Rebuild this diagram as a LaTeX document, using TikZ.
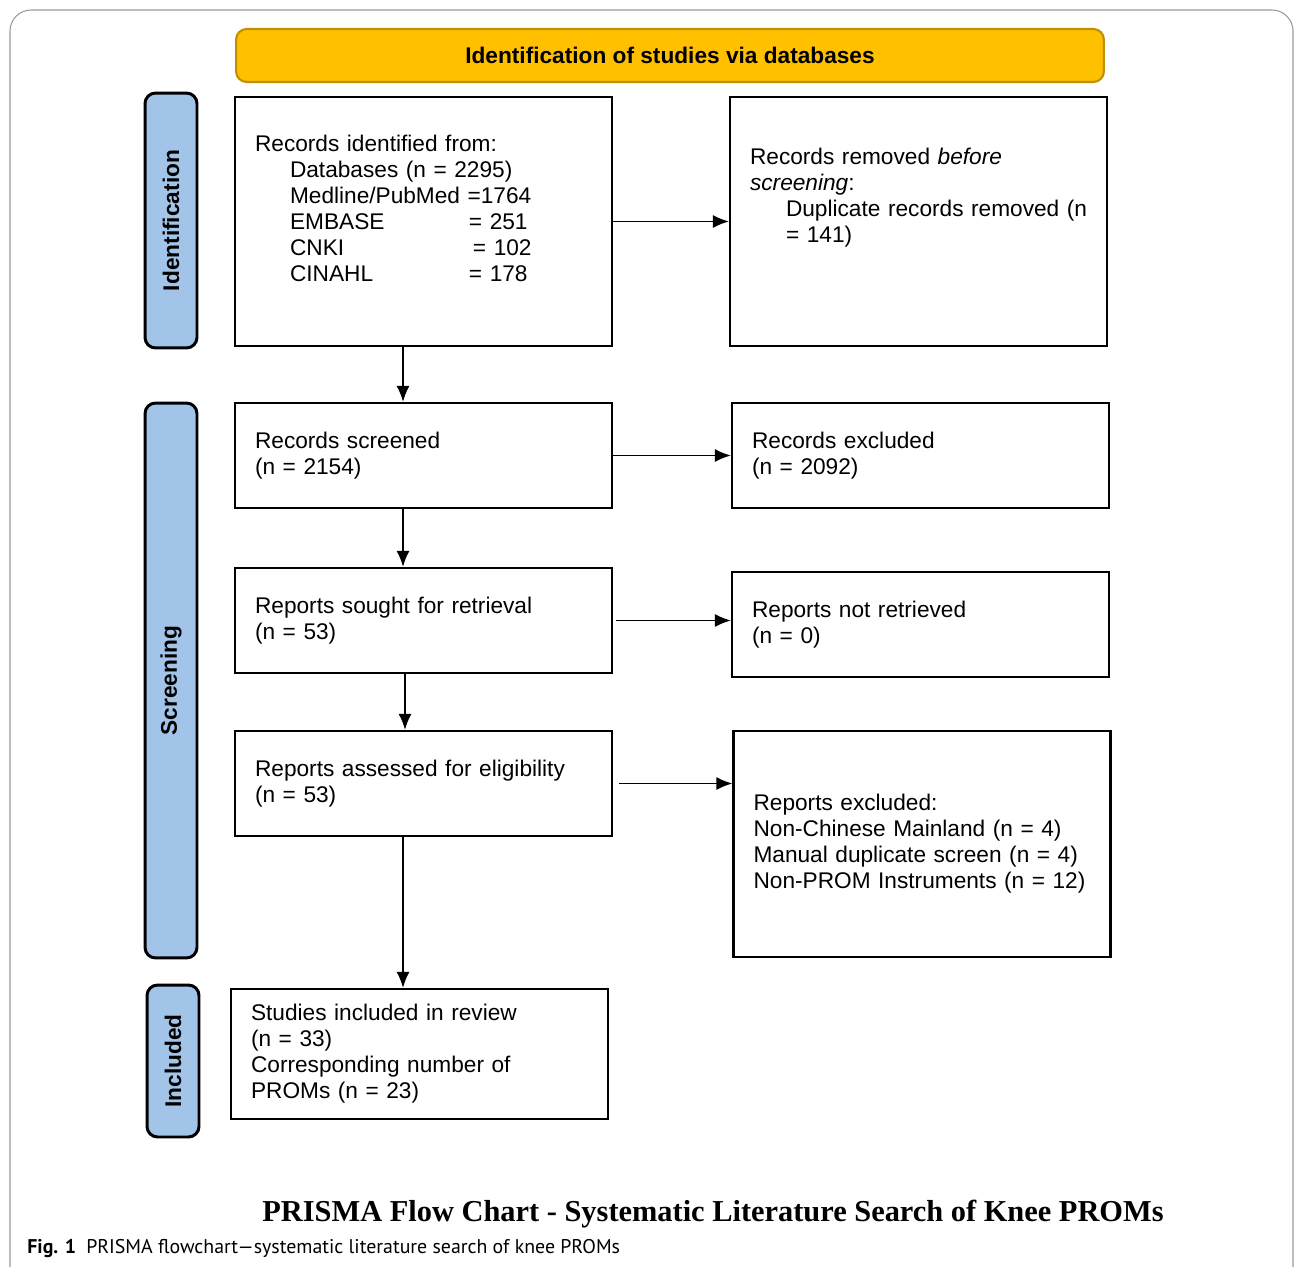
\documentclass[tikz,border=0pt]{standalone}
\usepackage{fontspec}
\setmainfont{Liberation Sans}
\newfontfamily\titlefont{Liberation Serif}
\newfontfamily\capfont{PT Sans}
\usetikzlibrary{arrows.meta}

\definecolor{bannergold}{HTML}{FFC000}
\definecolor{bannerline}{HTML}{C09000}
\definecolor{sideblue}{HTML}{A3C4E9}

\begin{document}
\begin{tikzpicture}[x=0.02cm, y=-0.02cm]
            \useasboundingbox (0,0) rectangle (1295,1267);
            \draw[gray!80, line width=0.6pt, rounded corners=12] (10,1267) -- (10,10) -- (1293,10) -- (1293,1267);

            \node[draw=bannerline, line width=1.2pt, fill=bannergold, rounded corners=6pt,
                minimum width=17.36cm, minimum height=1.06cm,
                font=\bfseries\fontsize{12.9}{15}\selectfont] (banner) at (670,55.5) {Identification of studies via databases};

            \begin{scope}[
                    every node/.style={draw, line width=1.7pt, fill=sideblue, rounded corners=6pt,
                        rotate=90, minimum height=1.04cm, inner sep=0pt,
                        font=\bfseries\fontsize{12.9}{15}\selectfont}
                ]
                \node[minimum width=5.1cm] (sideid) at (171,220.5) {Identification};
                \node[minimum width=11.1cm] (sidescr) at (171,680.5) {Screening};
                \node[minimum width=3.04cm] (sideinc) at (173,1061) {Included};
            \end{scope}

            \begin{scope}[
                    every node/.style={draw, line width=1.3pt, align=left, text width=6.74cm,
                        inner xsep=0.4cm, inner ysep=0pt, minimum width=7.54cm,
                        font=\fontsize{12.9}{14.8}\selectfont}
                ]
                \node[minimum height=4.98cm] (ident) at (423.5,221.5) {Records identified from:\\
                    \hspace*{0.7cm}Databases (n = 2295)\\
                    \hspace*{0.7cm}Medline/PubMed =1764\\
                    \hspace*{0.7cm}\makebox[3.58cm][l]{EMBASE}= 251\\
                    \hspace*{0.7cm}\makebox[3.66cm][l]{CNKI}= 102\\
                    \hspace*{0.7cm}\makebox[3.58cm][l]{CINAHL}= 178\\
                    \mbox{}};
                \node[minimum height=4.98cm] (removed) at (918.5,221.5) {Records removed \textit{before}\\
                    \textit{screening}:\\
                    \mbox{\hspace*{0.72cm}Duplicate records removed (n}\\
                    \hspace*{0.72cm}= 141)\\
                    \mbox{}\\
                    \mbox{}};
                \node[minimum height=2.1cm] (screened) at (423.5,455.5) {Records screened\\(n = 2154)};
                \node[minimum height=2.1cm] (excluded) at (920.5,455.5) {Records excluded\\(n = 2092)};
                \node[minimum height=2.1cm] (sought) at (423.5,620.5) {Reports sought for retrieval\\(n = 53)};
                \node[minimum height=2.1cm] (notretr) at (920.5,624.5) {Reports not retrieved\\(n = 0)};
                \node[minimum height=2.1cm] (assessed) at (423.5,783.5) {Reports assessed for eligibility\\(n = 53)};
                \node[minimum height=4.52cm] (repexcl) at (922,844) {Reports excluded:\\
                    Non-Chinese Mainland (n = 4)\\
                    Manual duplicate screen (n = 4)\\
                    Non-PROM Instruments (n = 12)};
                \node[minimum height=2.6cm] (included) at (419.5,1054) {Studies included in review\\
                    (n = 33)\\
                    Corresponding number of\\
                    PROMs (n = 23)};
            \end{scope}

            \begin{scope}[
                    every edge/.style={draw, line width=0.9pt, -{Latex[length=0.32cm, width=0.26cm]}}
                ]
                \draw (ident) edge (removed);
                \draw (screened) edge (excluded);
                \draw ([xshift=0.06cm]sought.east) edge (sought.east -| notretr.west);
                \draw ([xshift=0.12cm]assessed.east) edge (assessed.east -| repexcl.west);
                \draw ([xshift=-0.41cm]ident.south) edge ([xshift=-0.41cm]screened.north);
                \draw ([xshift=-0.41cm]screened.south) edge ([xshift=-0.41cm]sought.north);
                \draw ([xshift=-0.37cm]sought.south) edge ([xshift=-0.37cm]assessed.north);
                \draw ([xshift=-0.41cm]assessed.south) edge ([xshift=-0.33cm]included.north);
            \end{scope}

            \node[font=\titlefont\bfseries\fontsize{17.3}{20}\selectfont] (title) at (713,1214) {PRISMA Flow Chart - Systematic Literature Search of Knee PROMs};
            \node[anchor=west, inner sep=0pt, font=\capfont\fontsize{11.3}{13}\selectfont] (caption) at (27,1249) {\textbf{Fig. 1}\hspace{0.2cm}PRISMA flowchart—systematic literature search of knee PROMs};

        \end{tikzpicture}
\end{document}
